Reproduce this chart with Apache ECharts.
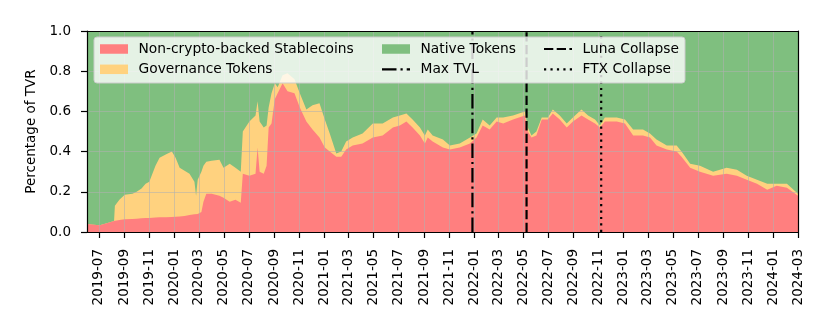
<!DOCTYPE html>
<html>
<head>
<meta charset="utf-8">
<script src="https://cdn.jsdelivr.net/npm/echarts@6/dist/echarts.min.js"></script>
<style>
html, body { margin: 0; padding: 0; background: #fff; }
#chart { width: 830px; height: 332px; }
</style>
</head>
<body>
<div id="chart"></div>
<script>
// share of total value at risk
const dates = [
  '2019-06-02','2019-06-13','2019-07-03','2019-07-22','2019-08-07','2019-08-09','2019-08-20','2019-09-02',
  '2019-09-21','2019-10-01','2019-10-13','2019-10-23','2019-11-01','2019-11-16','2019-11-26','2019-12-11',
  '2019-12-26','2020-01-04','2020-01-14','2020-01-26','2020-02-07','2020-02-19','2020-02-23','2020-02-27',
  '2020-03-07','2020-03-12','2020-03-19','2020-04-01','2020-04-20','2020-04-30','2020-05-15','2020-05-29',
  '2020-06-11','2020-06-16','2020-07-02','2020-07-17','2020-07-22','2020-07-27','2020-08-06','2020-08-13',
  '2020-08-18','2020-08-25','2020-09-02','2020-09-09','2020-09-21','2020-10-03','2020-10-20','2020-11-02',
  '2020-11-18','2020-12-03','2020-12-20','2021-01-02','2021-01-14','2021-01-30','2021-02-11','2021-02-23',
  '2021-03-11','2021-04-04','2021-04-29','2021-05-23','2021-06-17','2021-07-04','2021-07-20','2021-08-04',
  '2021-08-22','2021-09-03','2021-09-10','2021-09-22','2021-10-17','2021-11-03','2021-11-27','2021-12-22',
  '2022-01-07','2022-01-22','2022-02-08','2022-02-25','2022-03-13','2022-04-06','2022-05-05','2022-05-12',
  '2022-05-21','2022-06-02','2022-06-15','2022-06-30','2022-07-12','2022-07-29','2022-08-15','2022-08-30',
  '2022-09-20','2022-10-06','2022-10-23','2022-11-04','2022-11-16','2022-12-15','2023-01-04','2023-01-24',
  '2023-02-17','2023-03-06','2023-03-22','2023-04-16','2023-05-10','2023-05-22','2023-06-12','2023-07-06',
  '2023-08-07','2023-09-09','2023-10-04','2023-10-28','2023-11-22','2023-12-17','2024-01-09','2024-02-03',
  '2024-03-01'
];
const stablecoins = [
  0.040,0.037,0.034,0.045,0.055,0.056,0.060,0.063,
  0.065,0.066,0.068,0.070,0.070,0.072,0.073,0.074,
  0.075,0.076,0.077,0.080,0.084,0.088,0.090,0.090,
  0.100,0.150,0.190,0.190,0.180,0.170,0.150,0.160,
  0.145,0.290,0.280,0.290,0.420,0.300,0.290,0.330,
  0.520,0.540,0.660,0.690,0.740,0.700,0.690,0.620,
  0.550,0.510,0.470,0.420,0.400,0.375,0.375,0.410,
  0.430,0.440,0.470,0.480,0.520,0.530,0.550,0.520,
  0.480,0.440,0.470,0.450,0.420,0.410,0.420,0.440,
  0.470,0.530,0.510,0.550,0.540,0.560,0.580,0.500,
  0.470,0.480,0.560,0.560,0.590,0.560,0.520,0.550,
  0.580,0.560,0.540,0.520,0.550,0.550,0.540,0.480,
  0.480,0.470,0.430,0.410,0.400,0.375,0.320,0.300,
  0.280,0.290,0.280,0.260,0.240,0.210,0.230,0.220,
  0.180
];
const governance = [
  0.000,0.000,0.000,0.000,0.000,0.074,0.100,0.122,
  0.125,0.134,0.149,0.170,0.180,0.258,0.297,0.311,
  0.325,0.294,0.243,0.225,0.206,0.162,0.090,0.170,
  0.200,0.180,0.160,0.165,0.180,0.150,0.190,0.160,
  0.155,0.210,0.270,0.290,0.230,0.250,0.230,0.200,
  0.100,0.150,0.080,0.030,0.040,0.090,0.070,0.070,
  0.060,0.120,0.170,0.140,0.090,0.015,0.025,0.040,
  0.040,0.050,0.070,0.060,0.050,0.050,0.040,0.040,
  0.040,0.040,0.040,0.030,0.040,0.020,0.020,0.030,
  0.020,0.030,0.020,0.020,0.030,0.020,0.020,0.020,
  0.010,0.020,0.010,0.010,0.020,0.020,0.020,0.020,
  0.030,0.020,0.020,0.010,0.020,0.020,0.020,0.030,
  0.030,0.020,0.030,0.020,0.030,0.025,0.020,0.030,
  0.020,0.030,0.030,0.020,0.020,0.030,0.010,0.020,
  0.010
];
const native = [
  0.960,0.963,0.966,0.955,0.945,0.870,0.840,0.815,
  0.810,0.800,0.783,0.760,0.750,0.670,0.630,0.615,
  0.600,0.630,0.680,0.695,0.710,0.750,0.820,0.740,
  0.700,0.670,0.650,0.645,0.640,0.680,0.660,0.680,
  0.700,0.500,0.450,0.420,0.350,0.450,0.480,0.470,
  0.380,0.310,0.260,0.280,0.220,0.210,0.240,0.310,
  0.390,0.370,0.360,0.440,0.510,0.610,0.600,0.550,
  0.530,0.510,0.460,0.460,0.430,0.420,0.410,0.440,
  0.480,0.520,0.490,0.520,0.540,0.570,0.560,0.530,
  0.510,0.440,0.470,0.430,0.430,0.420,0.400,0.480,
  0.520,0.500,0.430,0.430,0.390,0.420,0.460,0.430,
  0.390,0.420,0.440,0.470,0.430,0.430,0.440,0.490,
  0.490,0.510,0.540,0.570,0.570,0.600,0.660,0.670,
  0.700,0.680,0.690,0.720,0.740,0.760,0.760,0.760,
  0.810
];
const tickLabels = [
  '2019-07','2019-09','2019-11','2020-01','2020-03','2020-05','2020-07','2020-09','2020-11',
  '2021-01','2021-03','2021-05','2021-07','2021-09','2021-11','2022-01','2022-03','2022-05',
  '2022-07','2022-09','2022-11','2023-01','2023-03','2023-05','2023-07','2023-09','2023-11',
  '2024-01','2024-03'
];
const eventNames = ['Max TVL', 'Luna Collapse', 'FTX Collapse'];
const eventDates = ['2021-12-28', '2022-05-09', '2022-11-07'];
const eventDash = [[14.5, 4, 2.2, 4], [9.3, 3.4], [2.2, 4.25]];
// legend glyphs for the event lines, 28 x 2.2 px
const eventIcons = [
  'path://M0,0h14.5v2.2h-14.5z M18.5,0h2.2v2.2h-2.2z M24.7,0h3.3v2.2h-3.3z',
  'path://M0,0h9.3v2.2h-9.3z M12.7,0h9.3v2.2h-9.3z M25.4,0h2.6v2.2h-2.6z',
  'path://M0,0h2.2v2.2h-2.2z M6.45,0h2.2v2.2h-2.2z M12.9,0h2.2v2.2h-2.2z M19.35,0h2.2v2.2h-2.2z M25.8,0h2.2v2.2h-2.2z'
];

const ts = s => echarts.number.parseDate(s).getTime();
const fontFamily = 'DejaVu Sans';
const fs = 13.5;
const tickVals = tickLabels.map(t => ts(t + '-01'));

const chart = echarts.init(document.getElementById('chart'), null, { renderer: 'canvas' });

// stack the shares ourselves, top layer first so lower layers paint over it
const govTop = stablecoins.map((v, i) => v + governance[i]);
const nativeTop = govTop.map((v, i) => v + native[i]);

const areaSeries = [
  ['Native Tokens', nativeTop, '#7fbf7f'],
  ['Governance Tokens', govTop, '#ffd27f'],
  ['Non-crypto-backed Stablecoins', stablecoins, '#ff7f7f']
].map(([name, vals, color]) => ({
  name: name,
  type: 'line',
  symbol: 'none',
  color: color,
  lineStyle: { width: 0 },
  areaStyle: { color: color, opacity: 1 },
  z: 2,
  data: dates.map((d, i) => [ts(d), vals[i]])
}));

const eventSeries = eventNames.map((name, i) => ({
  name: name,
  type: 'line',
  symbol: 'none',
  color: '#000',
  lineStyle: { color: '#000', width: 2.2, type: eventDash[i] },
  z: 4,
  data: [[ts(eventDates[i]), 0], [ts(eventDates[i]), 1]]
}));

function legendAt(name, left, top, icon, h) {
  return {
    data: [{ name: name, icon: icon }],
    left: left,
    top: top,
    padding: 0,
    itemWidth: 28,
    itemHeight: h,
    z: 11,
    selectedMode: false,
    textStyle: { fontFamily: fontFamily, fontSize: 13.8, color: '#000', lineHeight: 16, padding: [0, 0, 0, 5.5] }
  };
}

const xMin = ts('2019-06-02');
const xMax = ts('2024-03-01');

chart.setOption({
  animation: false,
  backgroundColor: '#fff',
  grid: { left: 87, right: 32, top: 31, bottom: 100, outerBoundsMode: 'none' },
  graphic: [{
    type: 'rect',
    z: 10,
    shape: { x: 94, y: 37, width: 591, height: 46, r: 3 },
    style: { fill: 'rgba(255,255,255,0.8)', stroke: '#cccccc', lineWidth: 1 }
  }],
  legend: [
    legendAt('Non-crypto-backed Stablecoins', 100, 41, 'rect', 9.5),
    legendAt('Governance Tokens', 100, 61.3, 'rect', 9.5),
    legendAt('Native Tokens', 382, 41, 'rect', 9.5),
    legendAt('Max TVL', 382, 61.3, eventIcons[0], 2.2),
    legendAt('Luna Collapse', 544, 41, eventIcons[1], 2.2),
    legendAt('FTX Collapse', 544, 61.3, eventIcons[2], 2.2)
  ],
  xAxis: [{
    type: 'value',
    min: xMin,
    max: xMax,
    z: 3,
    axisLine: { onZero: false, lineStyle: { color: '#000', width: 1.2 } },
    axisTick: { show: true, length: 6, lineStyle: { color: '#000', width: 1.2 }, customValues: tickVals },
    axisLabel: {
      customValues: tickVals,
      rotate: 90,
      margin: 17,
      color: '#000',
      fontFamily: fontFamily,
      fontSize: fs,
      formatter: v => tickLabels[tickVals.indexOf(v)] || ''
    },
    splitLine: { show: true, lineStyle: { color: 'rgba(176,176,176,0.55)', width: 1 } }
  }, {
    type: 'value',
    position: 'top',
    min: xMin,
    max: xMax,
    z: 6,
    axisLine: { show: true, onZero: false, lineStyle: { color: '#000', width: 1.2 } },
    axisTick: { show: false },
    axisLabel: { show: false },
    splitLine: { show: false }
  }],
  yAxis: [{
    type: 'value',
    min: 0,
    max: 1,
    interval: 0.2,
    z: 3,
    name: 'Percentage of TVR',
    nameLocation: 'middle',
    nameGap: 47,
    nameTextStyle: { fontFamily: fontFamily, fontSize: fs, color: '#000' },
    axisLine: { show: true, onZero: false, lineStyle: { color: '#000', width: 1.2 } },
    axisTick: { show: true, length: 6, lineStyle: { color: '#000', width: 1.2 } },
    axisLabel: { margin: 16, color: '#000', fontFamily: fontFamily, fontSize: fs, formatter: v => v.toFixed(1) },
    splitLine: { show: true, lineStyle: { color: 'rgba(176,176,176,0.55)', width: 1 } }
  }, {
    type: 'value',
    position: 'right',
    min: 0,
    max: 1,
    z: 6,
    axisLine: { show: true, onZero: false, lineStyle: { color: '#000', width: 1.2 } },
    axisTick: { show: false },
    axisLabel: { show: false },
    splitLine: { show: false }
  }],
  series: areaSeries.concat(eventSeries)
});
</script>
</body>
</html>
